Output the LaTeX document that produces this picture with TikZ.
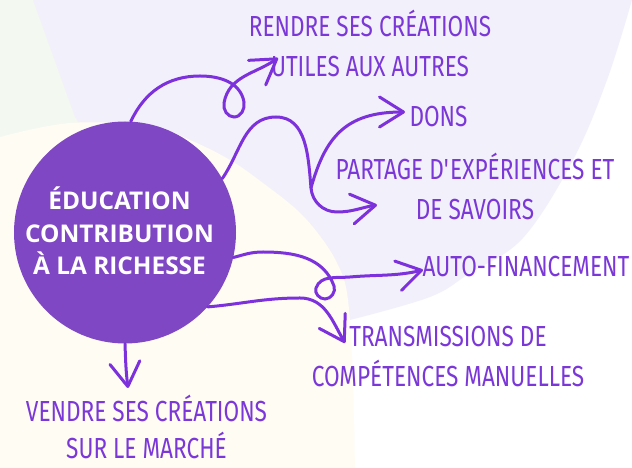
\documentclass[tikz,border=0pt]{standalone}
\usepackage{fontspec}
\setmainfont{Open Sans}
\newfontfamily\hand[FakeStretch=0.78]{Fira Sans}
\newfontfamily\titlefont{Open Sans}
\usetikzlibrary{arrows.meta}
\definecolor{lavbg}{HTML}{F2F0FA}
\definecolor{creambg}{HTML}{FFFCF3}
\definecolor{greenbg}{HTML}{F3F8F1}
\definecolor{circfill}{HTML}{8047C4}
\definecolor{arrowc}{HTML}{7C31DC}
\definecolor{labelc}{HTML}{7B37D8}
\begin{document}
\begin{tikzpicture}[x=1pt,y=1pt,
  conn/.style={draw=arrowc, line width=3pt, line cap=round,
    -{Straight Barb[length=24pt,width=30pt,round]}},
  lbl/.style={text=labelc, font=\hand\fontsize{29}{40}\selectfont, anchor=base, inner sep=0pt},
  ctext/.style={text=white, font=\titlefont\bfseries\fontsize{24.4}{32.5}\selectfont, anchor=base, inner sep=0pt}]
\useasboundingbox (0,0) rectangle (632,468);
% background
\fill[white] (0,0) rectangle (632,468);
\fill[greenbg] (0,250) rectangle (140,468);
\fill[lavbg] (33,468) -- (75,351) -- (200,180) -- (350,148)
  -- plot[smooth, tension=0.6] coordinates {(350,148) (430,171) (470,195) (523,230) (573,308) (607,388) (632,468)}
  -- cycle;
\fill[creambg] plot[smooth, tension=0.6] coordinates {(0,331) (70,345) (150,342) (190,328) (230,308) (263,285) (297,258) (320,232) (337,205) (347,175) (352,110) (355,0)}
  -- (0,0) -- cycle;
% central circle
\node[circle, fill=circfill, minimum size=222pt, inner sep=0pt] (c) at (125,235.5) {};
\node[ctext] (ct) at (119.5,258) {\begin{tabular}[t]{@{}c@{}}ÉDUCATION\\CONTRIBUTION\\À LA RICHESSE\end{tabular}};
% labels
\node[lbl] (l1) at (370,431) {\begin{tabular}[t]{@{}c@{}}RENDRE SES CRÉATIONS\\UTILES AUX AUTRES\end{tabular}};
\node[lbl] (l2) at (438.5,341) {DONS};
\node[lbl] (l3) at (475,288) {\begin{tabular}[t]{@{}c@{}}PARTAGE D\textquotesingle EXPÉRIENCES ET\\DE SAVOIRS\end{tabular}};
\node[lbl] (l4) at (526,191) {AUTO-FINANCEMENT};
\node[lbl] (l5) at (448,121) {\begin{tabular}[t]{@{}c@{}}TRANSMISSIONS DE\\COMPÉTENCES MANUELLES\end{tabular}};
\node[lbl] (l6) at (146.5,46) {VENDRE SES CRÉATIONS};
\node[lbl] (l6b) at (146.5,9) {SUR LE MARCHÉ};
% arrow tips
\coordinate (t1) at (278,410);
\coordinate (t2) at (405,356);
\coordinate (t3) at (377,263);
\coordinate (t4) at (423,198);
\coordinate (t5) at (345,125);
\coordinate (t6) at (128,80);
\coordinate (j) at (311,280);
% connectors
\draw[conn] (c.87) to[out=65,in=180] (200,392) to[out=0,in=100] (244,366)
  to[out=-80,in=0] (234,351) to[out=180,in=-100] (224,365) to[out=80,in=215] (t1);
\draw[conn] (c.29) to[out=55,in=180] (276,351) to[out=0,in=95] (j)
  to[out=-85,in=180] (337,256) to[out=0,in=189] (t3);
\draw[conn] (j) .. controls (325,330) and (345,356) .. (t2);
\draw[conn] (c.-13) to[out=15,in=180] (263,216) to[out=0,in=110] (334,182)
  to[out=-70,in=0] (325,169) to[out=180,in=-110] (316,180) to[out=70,in=185] (350,191)
  to[out=5,in=193] (t4);
\draw[conn] (c.-42) to[out=5,in=180] (300,170) to[out=0,in=120] (t5);
\draw[conn] (c.south) to[out=-88,in=97] (t6);
\end{tikzpicture}
\end{document}
